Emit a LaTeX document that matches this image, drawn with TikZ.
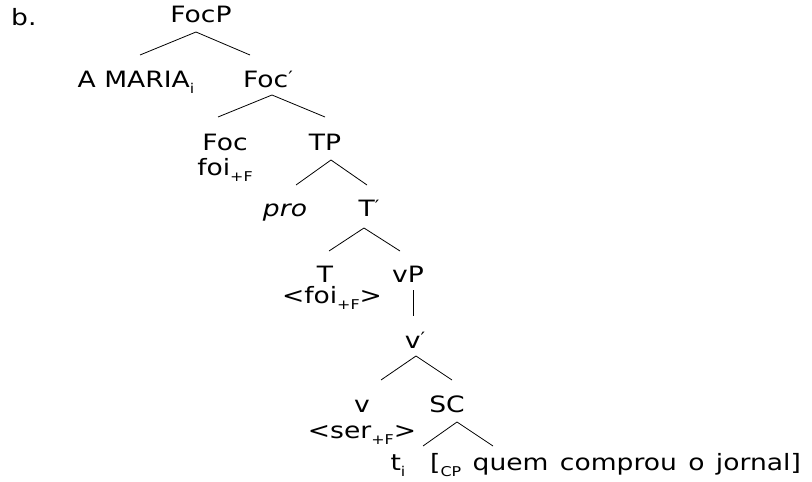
\documentclass[tikz,border=0pt]{standalone}
\usepackage{fontspec}
\setmainfont{DejaVu Sans}[FakeStretch=1.18]
\newfontfamily\widespc{DejaVu Sans}[FakeStretch=1.18,WordSpace=1.35]
\newcommand{\sbs}[1]{\raisebox{-0.28em}{\fontsize{13.5}{14}\selectfont #1}}
\newcommand{\prm}{\raisebox{0.15em}{\fontsize{17}{17}\selectfont ′}}
\begin{document}
\begin{tikzpicture}[x=1pt,y=-1pt,
  lab/.style={anchor=base,inner sep=0pt,font=\fontsize{22.5}{26}\selectfont},
  br/.style={line width=0.8pt,black}]
\useasboundingbox (0,0) rectangle (812,482);
\node[lab,anchor=base west] (b) at (11,25) {b.};
\node[lab] (FocP) at (201,22) {FocP};
\node[lab] (AM) at (136,87) {A MARIA\sbs{i}};
\node[lab] (Focb) at (268,87) {Foc\prm};
\node[lab] (Foc) at (225,150) {Foc};
\node[lab] (foi) at (225,175) {foi\sbs{+F}};
\node[lab] (TP) at (325,150) {TP};
\node[lab] (pro) at (285,216) {\itshape pro};
\node[lab] (Tb) at (369,216) {T\prm};
\node[lab] (T) at (325,282) {T};
\node[lab] (foib) at (332,303) {<foi\sbs{+F}>};
\node[lab] (vP) at (408,282) {vP};
\node[lab] (vb) at (415,348) {v\prm};
\node[lab] (v) at (362,412) {v};
\node[lab] (ser) at (362,438) {<ser\sbs{+F}>};
\node[lab] (SC) at (447,412) {SC};
\node[lab] (t) at (398,470) {t\sbs{i}};
\node[lab,anchor=base west] (CP) at (430,470) {\widespc [\sbs{CP} quem comprou o jornal]};
% branch end points
\coordinate (FocP-d) at (196,32);
\coordinate (AM-u) at (140,55);
\coordinate (Focb-u) at (250,55);
\coordinate (Focb-d) at (272,95);
\coordinate (Foc-u) at (218,117);
\coordinate (TP-u) at (325,117);
\coordinate (TP-d) at (331,160);
\coordinate (pro-u) at (296,185);
\coordinate (Tb-u) at (367,185);
\coordinate (Tb-d) at (364,228);
\coordinate (T-u) at (329,251);
\coordinate (vP-u) at (400,251);
\coordinate (vP-d) at (413,290);
\coordinate (vb-u) at (413,316);
\coordinate (vb-d) at (416,356);
\coordinate (v-u) at (381,380);
\coordinate (SC-u) at (452,380);
\coordinate (SC-d) at (457,422);
\coordinate (t-u) at (423,446);
\coordinate (CP-u) at (493,446);
\draw[br] (AM-u) -- (FocP-d) -- (Focb-u);
\draw[br] (Foc-u) -- (Focb-d) -- (TP-u);
\draw[br] (pro-u) -- (TP-d) -- (Tb-u);
\draw[br] (T-u) -- (Tb-d) -- (vP-u);
\draw[br] (vP-d) -- (vb-u);
\draw[br] (v-u) -- (vb-d) -- (SC-u);
\draw[br] (t-u) -- (SC-d) -- (CP-u);
\end{tikzpicture}
\end{document}
